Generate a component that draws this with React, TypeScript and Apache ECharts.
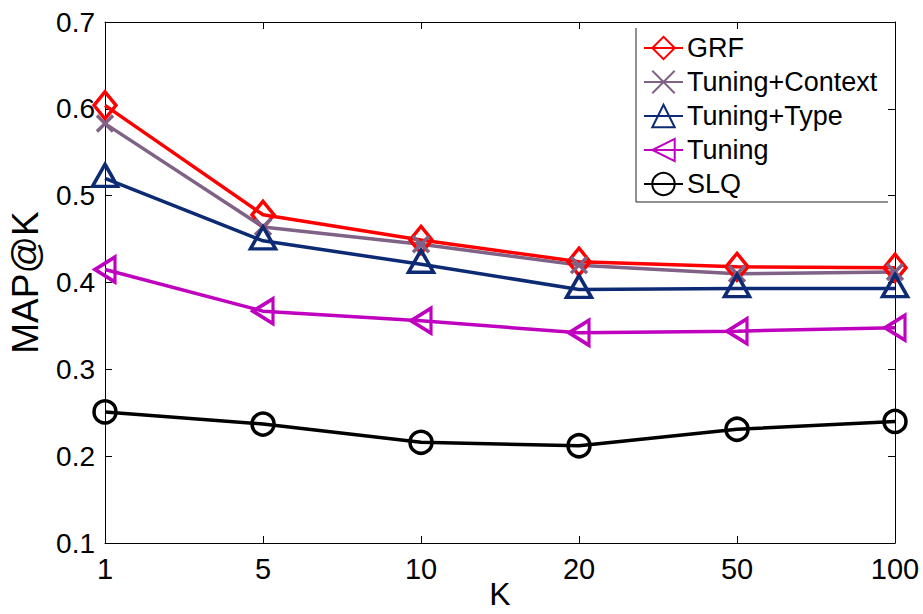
import React, { useEffect, useRef } from "react";
import * as echarts from "echarts";

const categories = ["1", "5", "10", "20", "50", "100"];
const grf = [0.604, 0.478, 0.449, 0.424, 0.418, 0.417];
const tuningContext = [0.583, 0.464, 0.444, 0.42, 0.41, 0.412];
const tuningType = [0.52, 0.448, 0.421, 0.392, 0.393, 0.393];
const tuning = [0.415, 0.367, 0.356, 0.342, 0.344, 0.348];
const slq = [0.251, 0.237, 0.216, 0.212, 0.231, 0.24];
const seriesNames = ["GRF", "Tuning+Context", "Tuning+Type", "Tuning", "SLQ"];
const xAxisTitle = "K";
const yAxisTitle = "MAP@K";

const FONT = "'Liberation Sans', Arial, Helvetica, sans-serif";

export default function App() {
  const ref = useRef<HTMLDivElement>(null);
  useEffect(() => {
    if (!ref.current) return;
    const chart = echarts.init(ref.current, null, { renderer: "svg" });
    const mk = (
      name: string,
      data: number[],
      color: string,
      symbol: string,
      symbolSize: any,
      extra: any = {}
    ) => ({
      name,
      type: "line",
      data,
      symbol,
      symbolSize,
      clip: false,
      xAxisIndex: 0,
      yAxisIndex: 0,
      lineStyle: { color, width: 3.5 },
      itemStyle: { color: "rgba(0,0,0,0)", borderColor: color, borderWidth: 3.5 },
      emphasis: { disabled: true },
      ...extra,
    });
    const axisCommonY = {
      type: "value",
      min: 0.1,
      max: 0.7,
      interval: 0.1,
      splitLine: { show: false },
      axisLine: { show: true, lineStyle: { color: "#000", width: 1 } },
      axisTick: { show: true, inside: true, length: 7, lineStyle: { color: "#000" } },
    };
    const axisCommonX = {
      type: "category",
      data: categories,
      boundaryGap: false,
      splitLine: { show: false },
      axisLine: { show: true, lineStyle: { color: "#000", width: 1 } },
      axisTick: { show: true, inside: true, length: 7, alignWithLabel: true, lineStyle: { color: "#000" } },
    };
    chart.setOption({
      animation: false,
      backgroundColor: "#fff",
      textStyle: { fontFamily: FONT },
      grid: {
        left: 105,
        right: 28,
        top: 22,
        bottom: 71,
        containLabel: false,
        outerBoundsMode: "none",
      },
      legend: {
        data: seriesNames,
        orient: "vertical",
        left: 643,
        top: 34,
        itemWidth: 39,
        itemHeight: 28,
        itemGap: 6,
        padding: 0,
        backgroundColor: "transparent",
        textStyle: { fontFamily: FONT, fontSize: 27, lineHeight: 28, color: "#000", padding: [0, 0, 0, -1] },
        selectedMode: false,
      },
      graphic: [
        {
          type: "polyline",
          silent: true,
          shape: { points: [[636, 28], [636, 202], [888, 202]] },
          style: { stroke: "#222", lineWidth: 1, fill: null },
        },
        {
          type: "text",
          silent: true,
          x: 500,
          y: 594,
          style: {
            text: xAxisTitle,
            fontFamily: FONT,
            fontSize: 32,
            lineHeight: 32,
            fill: "#000",
            align: "center",
            verticalAlign: "middle",
          },
        },
      ],
      xAxis: [
        {
          ...axisCommonX,
          position: "bottom",
          axisLabel: { fontFamily: FONT, fontSize: 29, color: "#000", margin: 11 },
        },
        {
          ...axisCommonX,
          position: "top",
          axisLabel: { show: false },
        },
      ],
      yAxis: [
        {
          ...axisCommonY,
          position: "left",
          name: yAxisTitle,
          nameLocation: "middle",
          nameRotate: 90,
          nameGap: 61,
          nameTextStyle: { fontFamily: FONT, fontSize: 37, color: "#000" },
          axisLabel: {
            fontFamily: FONT,
            fontSize: 28,
            color: "#000",
            margin: 10,
            formatter: (v: number) => v.toFixed(1),
          },
        },
        {
          ...axisCommonY,
          position: "right",
          axisLabel: { show: false },
        },
      ],
      series: [
        mk(seriesNames[0], grf, "#ff0000", "diamond", [22, 27]),
        mk(seriesNames[1], tuningContext, "#7f6285", "path://M0,0L10,10M10,0L0,10", 16),
        mk(seriesNames[2], tuningType, "#0d2b74", "triangle", [25, 22], { symbolOffset: [0, -3] }),
        mk(seriesNames[3], tuning, "#bf00bf", "path://M10,0L0,6L10,12Z", [20, 25]),
        mk(seriesNames[4], slq, "#000000", "circle", 22),
      ],
    });
    return () => chart.dispose();
  }, []);
  return (
    <div
      ref={ref}
      style={{ position: "fixed", left: 0, top: 0, width: 923, height: 614 }}
    />
  );
}
